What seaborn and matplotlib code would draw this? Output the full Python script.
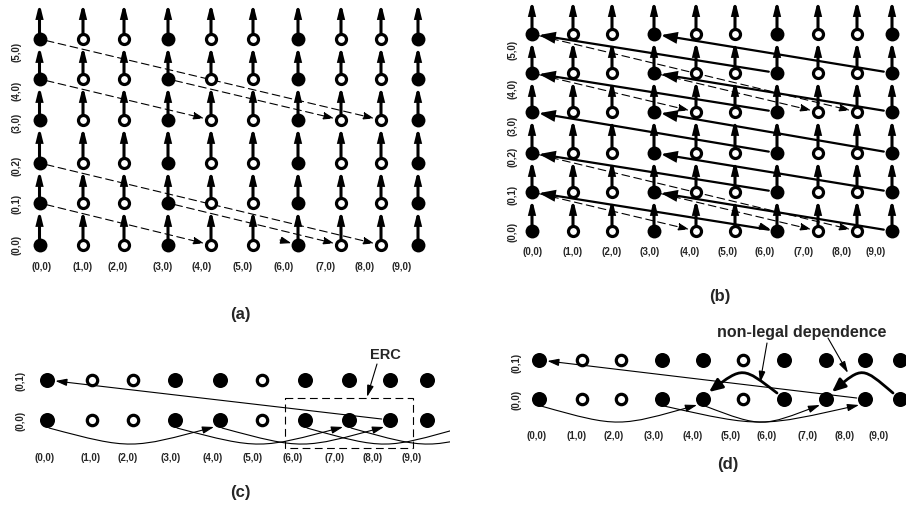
import numpy as np
import pandas as pd
import seaborn as sns
import matplotlib.pyplot as plt
from matplotlib.patches import FancyArrowPatch, Rectangle, ArrowStyle
from matplotlib.path import Path

sns.set_style('white')
plt.rcParams['font.family'] = ['Liberation Sans', 'DejaVu Sans']

# ---- data ----
col_labels = ['(0,0)', '(1,0)', '(2,0)', '(3,0)', '(4,0)', '(5,0)', '(6,0)', '(7,0)', '(8,0)', '(9,0)']
grid_row_labels = ['(0,0)', '(0,1)', '(0,2)', '(3,0)', '(4,0)', '(5,0)']
line_row_labels = ['(0,0)', '(0,1)']
grid_filled_cols = [0, 3, 6, 9]
line_filled = [1, 0, 0, 1, 1, 0, 1, 1, 1, 1]
# (col,row) -> (col,row)
dashed_deps = [((0, 5), (8, 3)), ((0, 4), (4, 3)), ((3, 4), (7, 3)),
               ((0, 2), (8, 0)), ((0, 1), (4, 0)), ((3, 1), (7, 0))]
stub_deps = [(6, 0)]
solid_deps_b = [((6, 0), (0, 1)), ((6, 1), (0, 2)), ((6, 2), (0, 3)), ((6, 3), (0, 4)), ((6, 4), (0, 5)),
                ((9, 0), (3, 1)), ((9, 1), (3, 2)), ((9, 2), (3, 3)), ((9, 3), (3, 4)), ((9, 4), (3, 5))]
c_arcs = [(0, 4), (3, 7), (4, 8), (6, 10), (7, 11)]
d_arcs = [(0, 4), (3, 8), (4, 7)]
d_illegal = [(6, 4), (9, 7)]
back_dep = ((8, 0), (0, 1))

# ---- layout in pixels ----
A = dict(cols=[39.5, 83, 124, 168, 211, 253, 298, 341, 381, 418], rows=[245, 203, 163, 120, 79, 39],
         lx=[42, 83, 118, 163, 202, 243, 284, 326, 365, 402], ly=267,
         rx=16, ry=[245, 204, 166, 123, 91, 52], top=3)
B = dict(cols=[532, 573, 612, 654, 696, 735, 777, 818, 857, 892], rows=[231, 192, 153, 112, 73, 34],
         lx=[533, 573, 612, 650, 690, 728, 765, 804, 842, 876], ly=252,
         rx=512, ry=[232, 195, 157, 126, 89, 50], top=0)
C = dict(cols=[47, 92, 133, 175, 220, 262, 305, 349, 390, 427], rows=[420, 380],
         lx=[45, 91, 128, 171, 213, 253, 293, 335, 373, 412], ly=458, rx=21, ry=[421, 381])
D = dict(cols=[539, 582, 621, 662, 703, 743, 784, 826, 865, 900], rows=[399, 360],
         lx=[537, 577, 614, 654, 693, 731, 767, 808, 845, 879], ly=436, rx=517, ry=[400, 363])

fig = plt.figure(figsize=(9.06, 5.08), dpi=100)
ax = fig.add_axes([0, 0, 1, 1])


def arrow(p0, p1, lw=0.8, hl=7, hw=2.2, ls='-', sA=0, sB=0, z=2):
    a = FancyArrowPatch(p0, p1, arrowstyle=ArrowStyle('-|>', head_length=hl, head_width=hw),
                        mutation_scale=1, lw=lw, color='black', linestyle=ls,
                        shrinkA=sA, shrinkB=sB, zorder=z, joinstyle='miter')
    ax.add_patch(a)
    return a


def curve(p0, p1, h, lw=0.8, hl=7, hw=2.2, clip=None):
    mx = (p0[0] + p1[0]) / 2
    path = Path([p0, (mx, p0[1] + h), (mx, p1[1] + h), p1],
                [Path.MOVETO, Path.CURVE4, Path.CURVE4, Path.CURVE4])
    a = FancyArrowPatch(path=path, arrowstyle=ArrowStyle('-|>', head_length=hl, head_width=hw),
                        mutation_scale=1, lw=lw, color='black', zorder=2)
    ax.add_patch(a)
    if clip is not None:
        a.set_clip_path(Rectangle((0, 0), clip, 508, transform=ax.transData))


def nodes(P, filled, big, small, lw):
    df = pd.DataFrame(filled, columns=['c', 'r', 'f'])
    df['x'] = [P['cols'][c] for c in df.c]
    df['y'] = [P['rows'][r] for r in df.r]
    sns.scatterplot(data=df[df.f == 1], x='x', y='y', s=big, color='black', linewidth=0,
                    zorder=5, ax=ax, legend=False)
    sns.scatterplot(data=df[df.f == 0], x='x', y='y', s=small, color='white', edgecolor='black',
                    linewidth=lw, zorder=5, ax=ax, legend=False)


def labels(P, rlabels):
    for x, t in zip(P['lx'], col_labels):
        ax.text(x, P['ly'], t, ha='center', va='center', fontsize=7, fontweight='bold')
    for y, t in zip(P['ry'], rlabels):
        ax.text(P['rx'], y, t, ha='center', va='center', fontsize=7, fontweight='bold', rotation=90)


def pos(P, cr):
    return (P['cols'][cr[0]], P['rows'][cr[1]])


# ---- panels (a) and (b) ----
for P in (A, B):
    for x in P['cols']:
        for r in range(len(P['rows']) - 1):
            arrow((x, P['rows'][r]), (x, P['rows'][r + 1]), lw=2.2, hl=6.5, hw=1.6, sB=5, z=3)
        arrow((x, P['rows'][-1]), (x, P['top']), lw=2.2, hl=6.5, hw=1.6, z=3)
    for s, t in dashed_deps:
        arrow(pos(P, s), pos(P, t), lw=0.8, ls=(0, (7, 4)), hl=6.5, hw=2.2, sA=5, sB=5)
    for t in stub_deps:
        x, y = pos(P, t)
        arrow((x - 18, y - 5), (x, y), lw=0.8, hl=6.5, hw=2.2, sB=5)
    grid = [(c, r, int(c in grid_filled_cols)) for c in range(10) for r in range(6)]
    nodes(P, grid, 100, 52, 2.3)
labels(A, grid_row_labels)
labels(B, grid_row_labels)
for s, t in solid_deps_b:
    arrow(pos(B, s), pos(B, t), lw=1.6, hl=9, hw=3.2, sA=6, sB=5, z=4)

# ---- panels (c) and (d) ----
for P in (C, D):
    line = [(c, r, line_filled[c]) for c in range(10) for r in range(2)]
    nodes(P, line, 117, 56, 2.3)
    arrow(pos(P, back_dep[0]), pos(P, back_dep[1]), lw=0.8, hl=7, hw=2.2, sA=6, sB=6)
labels(C, line_row_labels)
labels(D, line_row_labels)


def colx(P, c):
    xs = P['cols']
    return xs[c] if c < len(xs) else xs[-1] + (c - len(xs) + 1) * 43


for s, t in c_arcs:
    y = C['rows'][0]
    curve((colx(C, s) + 2, y + 8), (colx(C, t) - 6, y + 7), 22, clip=450)
for s, t in d_arcs:
    y = D['rows'][0]
    curve((colx(D, s) + 2, y + 7), (colx(D, t) - 6, y + 6), 22)
for s, t in d_illegal:
    y = D['rows'][0]
    curve((colx(D, s) - 7, y - 6), (colx(D, t) + 6, y - 7), -26, lw=2.0, hl=8, hw=3.5)

# ERC box
ax.add_patch(Rectangle((285, 398), 128, 50, fill=False, lw=0.8, ls=(0, (7, 4)), ec='black', zorder=1))
ax.text(385, 355, 'ERC', ha='center', va='center', fontsize=10.5, fontweight='bold')
arrow((377, 364), (367, 397), lw=0.8, hl=7, hw=2)
ax.text(802, 332, 'non-legal dependence', ha='center', va='center', fontsize=11.5, fontweight='bold')
arrow((767, 343), (760, 383), lw=0.8, hl=7, hw=2)
arrow((828, 338), (848, 373), lw=0.8, hl=7, hw=2)

for t, x, y in [('(a)', 240, 315), ('(b)', 720, 297), ('(c)', 240, 492), ('(d)', 728, 465)]:
    ax.text(x, y, t, ha='center', va='center', fontsize=12, fontweight='bold')

ax.set_xlim(0, 906)
ax.set_ylim(508, 0)
ax.axis('off')
fig.savefig('out.png', dpi=100)
